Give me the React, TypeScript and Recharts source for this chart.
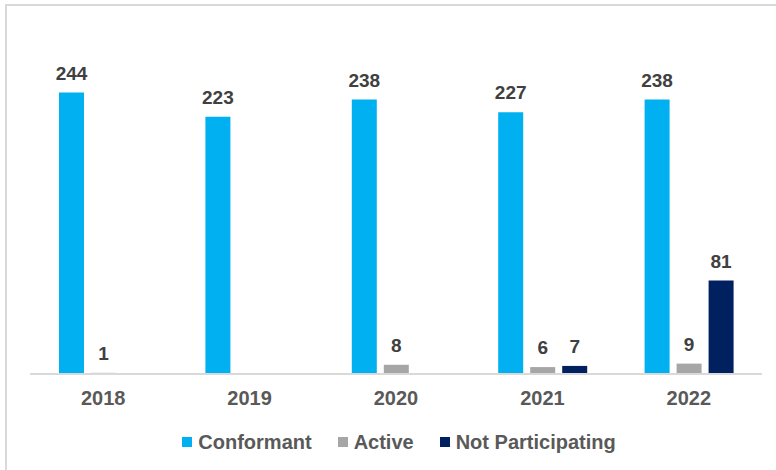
import React from 'react';
import { BarChart, Bar, XAxis, YAxis, LabelList } from 'recharts';

const years = ['2018', '2019', '2020', '2021', '2022'];
const conformant = [244, 223, 238, 227, 238];
const active = [1, null, 8, 6, 9];
const notParticipating = [null, null, null, 7, 81];

const series = [
  { key: 'conformant', name: 'Conformant', color: '#00B0F0' },
  { key: 'active', name: 'Active', color: '#A6A6A6' },
  { key: 'notParticipating', name: 'Not Participating', color: '#002060' },
];

const data = years.map((year, i) => ({
  year,
  conformant: conformant[i],
  active: active[i],
  notParticipating: notParticipating[i],
}));

const FONT = '"Liberation Sans", Arial, sans-serif';

const renderLabel = (props: any) => {
  const { x, y, width, value } = props;
  if (value === null || value === undefined) return null;
  return (
    <text
      x={x + width / 2}
      y={y - 13}
      textAnchor="middle"
      fontFamily={FONT}
      fontSize={19}
      fontWeight="bold"
      fill="#404040"
    >
      {value}
    </text>
  );
};

const App: React.FC = () => {
  return (
    <div style={{ position: 'absolute', left: 0, top: 0, width: 776, height: 470, background: '#fff', overflow: 'hidden' }}>
      {/* frame of the original slide: only top and left edges are in view */}
      <div style={{ position: 'absolute', left: 5, top: 4, width: 771, height: 2, background: '#D9D9D9' }} />
      <div style={{ position: 'absolute', left: 5, top: 4, width: 2, height: 466, background: '#D9D9D9' }} />
      <div style={{ position: 'absolute', left: 0, top: 0 }}>
        <BarChart
          width={776}
          height={420}
          data={data}
          margin={{ top: 28, right: 14, left: 30, bottom: 0 }}
          barSize={25}
          barGap={7}
        >
          <YAxis hide domain={[0, 300]} />
          <XAxis
            dataKey="year"
            height={46}
            axisLine={{ stroke: '#D9D9D9', strokeWidth: 2 }}
            tickLine={false}
            tickMargin={11}
            tick={{ fontFamily: FONT, fontSize: 20, fontWeight: 'bold', fill: '#595959' }}
          />
          {series.map((s) => (
            <Bar key={s.key} dataKey={s.key} name={s.name} fill={s.color} isAnimationActive={false}>
              <LabelList dataKey={s.key} content={renderLabel} />
            </Bar>
          ))}
        </BarChart>
      </div>
      <div
        style={{
          position: 'absolute', left: 0, top: 429, width: 776, display: 'flex', justifyContent: 'center', gap: 26,
          fontFamily: FONT, fontSize: 20, fontWeight: 'bold', color: '#595959', paddingLeft: 22, boxSizing: 'border-box',
          lineHeight: '26px',
        }}
      >
        {series.map((s) => (
          <div key={s.key} style={{ display: 'flex', alignItems: 'center' }}>
            <span style={{ display: 'inline-block', width: 10, height: 10, background: s.color, marginRight: 6 }} />
            <span>{s.name}</span>
          </div>
        ))}
      </div>
    </div>
  );
};

export default App;
